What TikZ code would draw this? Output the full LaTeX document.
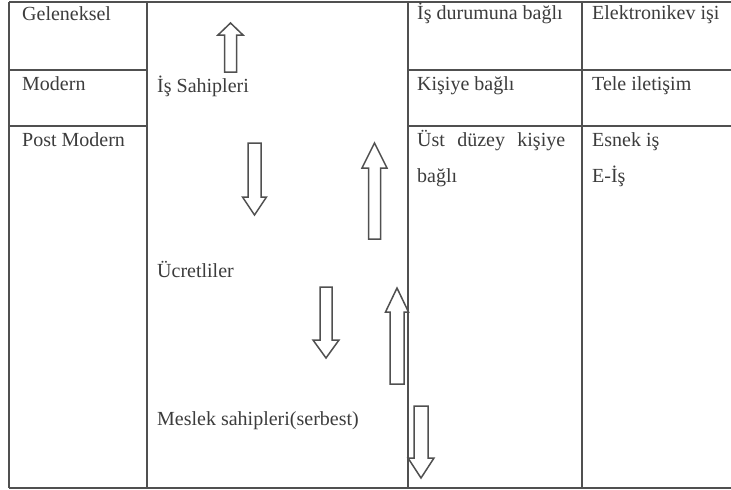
\documentclass[tikz,border=0pt]{standalone}
\usepackage{fontspec}
\setmainfont{Liberation Serif}
\definecolor{ink}{HTML}{3C3C3C}
\definecolor{rule}{HTML}{505050}
\tikzset{
  txt/.style={anchor=base west, inner sep=0pt, text=ink, font=\fontsize{20}{24}\selectfont},
  gridline/.style={draw=rule, line width=1.5pt},
  blockarrow/.style={draw=rule, line width=1.5pt, line join=miter, fill=white},
}
% up arrow: cx, tip, headbase, bottom, shaft half width, head half width
\newcommand\UpArr[6]{\draw[blockarrow] (#1-#5,#4) -- (#1-#5,#3) -- (#1-#6,#3) -- (#1,#2) -- (#1+#6,#3) -- (#1+#5,#3) -- (#1+#5,#4) -- cycle;}
% down arrow: cx, top, headbase, tip, shaft half width, head half width
\newcommand\DnArr[6]{\draw[blockarrow] (#1-#5,#2) -- (#1-#5,#3) -- (#1-#6,#3) -- (#1,#4) -- (#1+#6,#3) -- (#1+#5,#3) -- (#1+#5,#2) -- cycle;}
\begin{document}
\begin{tikzpicture}[x=1pt,y=-1pt]
\useasboundingbox[fill=white] (0,0) rectangle (731,490);
% table grid
\draw[gridline] (9,2) -- (731,2);
\draw[gridline] (9,488) -- (731,488);
\draw[gridline] (9,2) -- (9,488);
\draw[gridline] (147,2) -- (147,488);
\draw[gridline] (408,2) -- (408,488);
\draw[gridline] (582,2) -- (582,488);
\draw[gridline] (9,70) -- (147,70);
\draw[gridline] (9,126) -- (147,126);
\draw[gridline] (408,70) -- (731,70);
\draw[gridline] (408,126) -- (731,126);
% left column
\node[txt] (gel) at (22,20) {Geleneksel};
\node[txt] (mod) at (22,90) {Modern};
\node[txt] (post) at (22,146) {Post Modern};
% middle column
\node[txt] (is) at (157,92) {İş Sahipleri};
\node[txt] (ucr) at (157,277) {Ücretliler};
\node[txt] (mes) at (157,425) {Meslek sahipleri(serbest)};
% third column
\node[txt] (dur) at (417,19) {İş durumuna bağlı};
\node[txt] (kis) at (417,90) {Kişiye bağlı};
\node[txt] (ust) at (417,146) {\makebox[148pt][s]{Üst\hfill düzey\hfill kişiye}};
\node[txt] (bag) at (417,182) {bağlı};
% fourth column
\node[txt] (ele) at (592,19) {Elektronikev işi};
\node[txt] (tel) at (592,90) {Tele iletişim};
\node[txt] (esn) at (592,146) {Esnek iş};
\node[txt] (eis) at (592,182) {E-İş};
% block arrows
\UpArr{230.5}{23}{35}{72}{6}{12.5}
\DnArr{254.5}{143}{197}{215}{6.5}{12}
\UpArr{374.5}{143}{168}{239}{6}{12.5}
\DnArr{326}{287}{340}{358}{6}{13}
\UpArr{397}{288}{312}{384}{7}{11.5}
\DnArr{421}{406}{458}{478}{7}{13}
\end{tikzpicture}
\end{document}
